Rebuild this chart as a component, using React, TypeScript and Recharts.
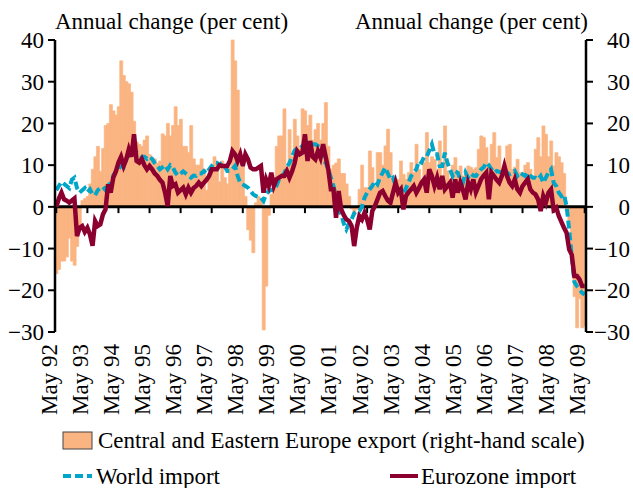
import React from "react"
import {
  ComposedChart,
  Bar,
  Line,
  XAxis,
  YAxis,
  ReferenceLine,
} from "recharts"

// monthly, May 92 .. May 09
const START_MONTH = 4 // May
const START_YEAR = 1992
const MONTH_NAMES = ["Jan", "Feb", "Mar", "Apr", "May", "Jun", "Jul", "Aug", "Sep", "Oct", "Nov", "Dec"]

// Central and Eastern Europe export (right-hand scale)
const ceeExport = [
  -16, -15, -13, -13, -12, -7.5, -13, -14, -9.5, -5, 1.5, 2,
  2.5, 5.5, 9, 12, 14.5, 8.5, 14, 19.5, 20, 24.5, 23, 22,
  24, 35, 31.5, 30, 29.5, 27.5, 20.5, 15.5, 15, 14.5, 16, 17,
  12.5, 11, 11.5, 10.5, 11, 17.5, 17, 20, 17, 19.5, 24, 19.5,
  21, 14.5, 14.5, 13, 19.5, 11.5, 10, 10, 11.5, 9, 4, 8,
  8.5, 12, 10.5, 6, 11, 7, 5.5, 9.5, 40, 35, 28, 9.5,
  10, 2.5, -5.5, -8, -11, 1, 2.5, 2, -29.5, -19, -2, 3,
  5, 14.5, 17, 17, 23.5, 7.5, 18.5, 12, 21, 17, 14, 23.5,
  23, 19.5, 22, 16, 18.5, 20, 16, 20, 25, 14.5, 9, 10,
  10.5, 11.5, 8, 8, 5.5, 2.5, -0.5, -2, -0.6, 4.2, 10, 4.6,
  4.6, 13.4, 9.4, 5, 13, 13, 10, 14.6, 18.6, 13, 7, 4.2,
  6.6, 11, 7.8, 6.6, 8.2, 10.6, 8.2, 15, 9, 5.8, 10.6, 17.8,
  10.6, 12, 11.4, 9, 15.8, 7.4, 19.4, 8.6, 6.6, 10, 11.8, 8,
  9.8, 7.4, 8.2, 9.8, 9.5, 9, 9.4, 13.8, 17, 16.6, 14.2, 9.8,
  15, 17.8, 11.8, 14.6, 9, 9.8, 14.6, 15, 9, 9.5, 11.4, 8.2,
  8, 10, 10.6, 9, 7.4, 13.8, 16.6, 12, 19.4, 17.4, 12, 15.8,
  9.8, 13, 12, 10.6, 8, -1, -4, -10, -21.5, -29, -22, -29,
  -28.5,
]

// World import
const worldImport = [
  4, 5, 6, 5.5, 5, 4.5, 6.5, 7, 4.5, 3.4, 4, 4.5,
  3.5, 4.2, 3, 2.8, 4, 4.5, 4.8, 4, 5.8, 5, 7.5, 8.5,
  9, 10, 9.5, 11.4, 12.5, 13, 13.5, 13, 12.5, 12, 12, 11.5,
  12, 11.5, 10.5, 9.8, 9, 9.5, 10, 9, 10, 9.5, 8.2, 7.5,
  8, 8.5, 8, 7.5, 7, 7.5, 7.4, 8, 8, 8.6, 8, 9,
  9.8, 10.6, 10.6, 10, 10.6, 9.8, 8.6, 8.6, 9, 9.8, 7.4, 5.8,
  5.4, 5, 4.6, 3.8, 3, 2.6, 2.4, 2.2, 1.4, 3, 3.8, 4,
  4.2, 5, 6.6, 7.4, 8, 9.5, 10.5, 12, 13.5, 14, 14, 14.6,
  14.6, 15, 15, 15, 15, 14.6, 13, 11, 10.6, 9, 7, 5,
  2.6, -0.6, -1.8, -4, -5.4, -4, -3, -1.5, -1, -1, 0, 2.2,
  3.4, 4.2, 5, 6.2, 5.4, 7, 8.2, 9.4, 8, 6.6, 7, 5,
  4.2, 4.2, 3, 4.5, 5.8, 7.4, 8.2, 9, 11, 10.6, 12, 12,
  13.5, 15, 12.6, 12.6, 9.8, 9.8, 13, 10.6, 9, 7.4, 8.5, 8.2,
  6.5, 5.8, 8.2, 7, 8, 7.5, 7.4, 8.2, 9, 9.5, 10.6, 10,
  9, 8.2, 8.6, 8.4, 8.2, 9, 8.2, 7.8, 8.2, 8.6, 7.4, 8.2,
  7.8, 7.4, 8.2, 7.4, 7, 7, 6.6, 7.4, 5.8, 7, 8.2, 9,
  5.8, 5, 3.4, 2.6, 3, 0.2, -5.4, -12, -18, -19, -19.8, -20.6,
  -21,
]

// Eurozone import
const eurozoneImport = [
  0, 2, 3.4, 1.8, 1.5, 1, 1.5, 2, -7, -5, -4.6, -6,
  -5, -6.6, -9.3, -3.4, -4.6, -4.2, -1.8, -0.6, 5.4, 3.4, 7, 8.5,
  10.6, 12, 9.8, 11.4, 13.8, 12, 17.4, 11, 10.6, 11.5, 10, 9,
  9.8, 9, 8, 7.4, 6.5, 5.8, 3.4, 0.2, 7.4, 5, 5.4, 3.4,
  4, 4.6, 3, 4.6, 3.4, 4.5, 5, 5.8, 5, 5.8, 6.5, 7.4,
  9, 9, 9, 10, 9.8, 9.8, 9.8, 11, 13.4, 12.6, 11, 12.6,
  9.8, 12.6, 11.4, 9.4, 9, 9, 9.4, 9.8, 3.4, 6.6, 5, 8.2,
  5, 6.6, 7, 7.4, 7.4, 8.6, 7, 8.5, 10.5, 13.4, 12.6, 13,
  17.4, 11, 15.8, 12, 11.4, 13.4, 11.8, 15, 12, 9, 4.2, 4.2,
  -2.6, 3.8, -0.6, -2, -3, -3.4, -4.6, -9.4, -5, -2.2, -3, -1.4,
  -3, -5.4, -1, 0.2, 1.8, 3.4, 3.8, 2.6, 1.5, 1, 3.4, 5.8,
  3.4, 4.2, -0.6, 2.6, 3.5, 4.2, 5, 3.4, 4.5, 5.8, 6.6, 3.4,
  9, 7.4, 5, 7, 4.2, 7.4, 4.2, 5, 5.8, 2.2, 6.6, 3.4,
  5.8, 4, 1.8, 5.8, 4.2, 6.6, 3.5, 5, 6.6, 7.5, 8.2, 1.8,
  8.2, 7.4, 6.5, 5.8, 7.4, 9.8, 7.4, 5.8, 5, 6.6, 4.2, 3.4,
  5, 5.8, 6.6, 4.2, 3.4, 3, 1.8, -1, 2.6, 1, 3.4, 4.2,
  -0.7, -0.2, -2.2, -3.6, -5, -6.2, -10.2, -11.5, -16.6, -16.6, -17.4, -19,
  -19,
]

const Y_TICKS = [-30, -20, -10, 0, 10, 20, 30, 40]

const monthLabel = (i: number) => {
  const m = START_MONTH + i
  const yr = (START_YEAR + Math.floor(m / 12)) % 100
  return `${MONTH_NAMES[m % 12]} ${String(yr).padStart(2, "0")}`
}

const data = ceeExport.map((v, i) => ({
  month: monthLabel(i),
  cee: v,
  world: worldImport[i],
  euro: eurozoneImport[i],
}))

const YEAR_TICKS = data.filter((_, i) => i % 12 === 0).map((d) => d.month)

const FONT = "Liberation Serif, Times New Roman, serif"
const FS = 23
const W = 625
const H = 414
const PLOT_TOP = 32
const PLOT_H = 292
const PLOT_LEFT = 47
const PLOT_W = 531
const ORANGE = "#FAB482"
const CYAN = "#00A6C8"
const RED = "#8C0030"

const fmt = (v: number) => (v < 0 ? `\u2212${-v}` : `${v}`)

function MonthTick({ x, payload }: any) {
  const ly = PLOT_TOP + PLOT_H + 12
  return (
    <text
      x={x}
      y={ly}
      transform={`rotate(-90 ${x} ${ly})`}
      textAnchor="end"
      dy="0.02em"
      fontFamily={FONT}
      fontSize={FS}
      fill="#000"
    >
      {payload.value}
    </text>
  )
}

function RightTick({ y, payload }: any) {
  return (
    <text x={PLOT_LEFT + PLOT_W + 44} y={y} dy="0.35em" textAnchor="end" fontFamily={FONT} fontSize={FS} fill="#000">
      {fmt(payload.value)}
    </text>
  )
}

export default function App() {
  return (
    <div style={{ position: "absolute", left: 8, top: 8, width: W, height: 480, fontFamily: FONT, overflow: "hidden" }}>
      <ComposedChart
        width={W}
        height={H}
        data={data}
        margin={{ top: PLOT_TOP, right: 0, bottom: 0, left: 0 }}
        barCategoryGap={0}
        barGap={0}
      >
        <XAxis
          dataKey="month"
          ticks={YEAR_TICKS}
          interval={0}
          axisLine={false}
          tickLine={false}
          height={H - PLOT_TOP - PLOT_H}
          tick={<MonthTick />}
        />
        <YAxis
          yAxisId="left"
          orientation="left"
          width={PLOT_LEFT}
          domain={[-30, 40]}
          ticks={Y_TICKS}
          interval={0}
          tickFormatter={fmt}
          axisLine={{ stroke: "#000", strokeWidth: 2.5 }}
          tickLine={{ stroke: "#000", strokeWidth: 2 }}
          tickSize={7}
          tickMargin={4}
          tick={{ fill: "#000", fontFamily: FONT, fontSize: FS }}
        />
        <YAxis
          yAxisId="right"
          orientation="right"
          width={W - PLOT_LEFT - PLOT_W}
          domain={[-30, 40]}
          ticks={Y_TICKS}
          interval={0}
          axisLine={{ stroke: "#000", strokeWidth: 2.5 }}
          tickLine={{ stroke: "#000", strokeWidth: 2 }}
          tickSize={7}
          tick={<RightTick />}
        />
        <Bar
          dataKey="cee"
          yAxisId="right"
          fill={ORANGE}
          stroke={ORANGE}
          strokeWidth={0.7}
          isAnimationActive={false}
        />
        <ReferenceLine y={0} yAxisId="left" stroke="#000" strokeWidth={3} />
        {YEAR_TICKS.map((m) => (
          <ReferenceLine
            key={m}
            yAxisId="left"
            segment={[
              { x: m, y: 0 },
              { x: m, y: -1.5 },
            ]}
            stroke="#000"
            strokeWidth={2}
          />
        ))}
        <Line
          dataKey="world"
          yAxisId="left"
          type="linear"
          stroke={CYAN}
          strokeWidth={4}
          strokeDasharray="8 4"
          dot={false}
          isAnimationActive={false}
        />
        <Line
          dataKey="euro"
          yAxisId="left"
          type="linear"
          stroke={RED}
          strokeWidth={4.5}
          dot={false}
          isAnimationActive={false}
        />
      </ComposedChart>
      <svg width={W} height={480} style={{ position: "absolute", left: 0, top: 0, pointerEvents: "none" }}>
        <g fontFamily={FONT} fontSize={FS} fill="#000">
          <text x={PLOT_LEFT} y={21}>Annual change (per cent)</text>
          <text x={PLOT_LEFT + PLOT_W + 2} y={21} textAnchor="end">Annual change (per cent)</text>
          <rect x={55} y={424} width={29} height={17} fill={ORANGE} stroke="#444" strokeWidth={1} />
          <text x={90} y={440}>Central and Eastern Europe export (right-hand scale)</text>
          <line x1={55} x2={84} y1={468} y2={468} stroke={CYAN} strokeWidth={4} strokeDasharray="8 4" />
          <text x={88} y={476}>World import</text>
          <line x1={382} x2={410} y1={468} y2={468} stroke={RED} strokeWidth={4} />
          <text x={413} y={476}>Eurozone import</text>
        </g>
      </svg>
    </div>
  )
}
